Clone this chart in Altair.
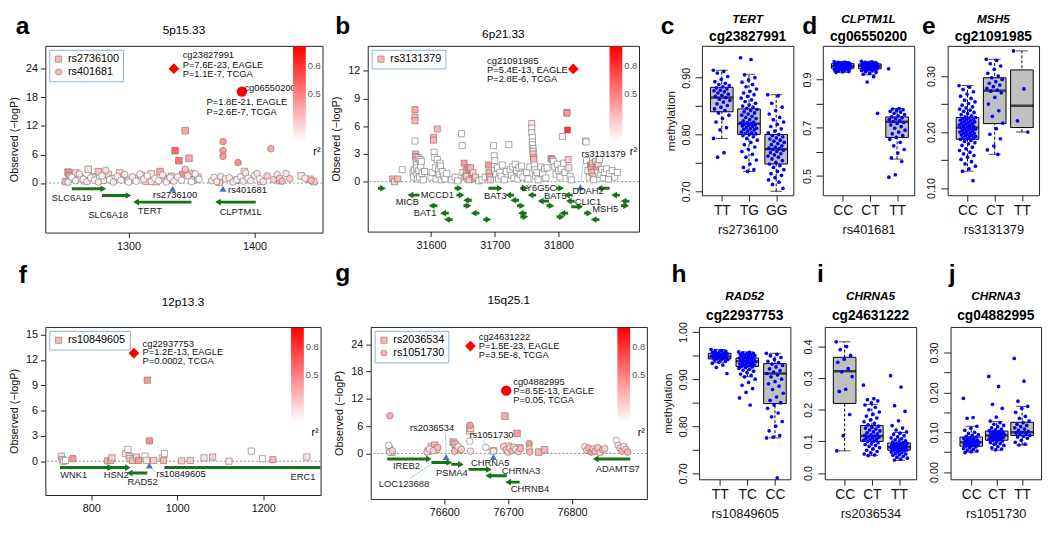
import altair as alt
import pandas as pd

FONT = "Liberation Sans"
GREEN = "#167318"
TRI_BLUE = "#4a74b4"
LEADER = "#a6c8e8"
PT_BLUE = "#0000ff"
BOX_GREY = "#c0c0c0"

# ---------------- panel a : 5p15.33 ----------------
A_SQ = [(1250,0.3,0.3),(1252,2.3,0.45),(1253,1.5,0.4),(1256,0.8,0.2),(1258,2.1,0.2),(1262,1.0,0.1),
        (1265,0.5,0.1),(1268,2.9,0.15),(1272,1.3,0.2),(1276,2.4,0.25),(1280,0.6,0.1),(1284,1.8,0.2),
        (1288,0.9,0.1),(1293,2.1,0.2),(1296,1.2,0.3),(1300,0.5,0.1),(1305,1.0,0.2),(1310,1.6,0.1),
        (1314,0.4,0.2),(1318,1.9,0.1),(1322,0.3,0.2),(1325,2.4,0.35),(1328,1.0,0.3),(1331,0.6,0.2),
        (1334,1.4,0.2),(1337,6.8,0.6),(1340,4.7,0.55),(1343,1.8,0.45),(1345,11.0,0.35),(1348,5.2,0.35),
        (1350,2.0,0.3),(1352,0.7,0.2),(1355,1.2,0.2),(1372,0.2,0.2),(1385,0.6,0.1),(1392,2.4,0.1),
        (1405,0.4,0.2),(1420,0.5,0.3),(1437,1.5,0.1),(1444,0.8,0.2),(1447,0.3,0.2)]
A_CI = [(1252,0.2,0.1),(1255,1.2,0.0),(1258,0.5,0.05),(1261,1.9,0.1),(1264,0.8,0.0),(1267,0.3,0.1),
        (1270,1.1,0.05),(1273,0.6,0.0),(1276,0.2,0.1),(1279,1.5,0.05),(1282,2.7,0.15),(1285,0.7,0.0),
        (1288,0.2,0.1),(1291,1.4,0.05),(1294,0.6,0.0),(1297,1.8,0.1),(1300,0.2,0.0),(1303,1.3,0.1),
        (1306,0.4,0.0),(1309,1.9,0.05),(1312,0.8,0.1),(1315,1.5,0.0),(1318,0.3,0.1),(1321,1.0,0.05),
        (1324,0.5,0.0),(1327,1.7,0.1),(1330,0.2,0.05),(1333,1.1,0.0),(1336,0.4,0.1),(1339,1.3,0.05),
        (1342,0.6,0.0),(1345,2.9,0.25),(1347,1.5,0.1),(1350,0.3,0.0),(1353,1.9,0.05),(1356,0.8,0.0),
        (1366,0.5,0.1),(1368,1.2,0.05),(1370,0.3,0.1),(1373,1.4,0.1),(1375,8.7,0.4),(1375,6.8,0.4),
        (1375,5.6,0.4),(1377,0.9,0.1),(1380,1.1,0.05),(1383,0.2,0.1),(1386,0.7,0.0),(1387,4.3,0.45),
        (1389,1.3,0.05),(1391,0.4,0.1),(1393,2.1,0.1),(1395,1.0,0.0),(1397,0.5,0.05),(1400,1.6,0.05),
        (1402,2.0,0.1),(1404,0.9,0.0),(1407,0.3,0.1),(1410,1.5,0.2),(1413,7.2,0.35),(1415,0.7,0.2),
        (1418,1.8,0.1),(1420,1.0,0.2),(1422,0.4,0.3),(1425,2.0,0.1),(1428,0.9,0.2),(1440,1.0,0.1),
        (1445,0.5,0.3)]
A_HITS = [(1336,24.0,"diamond"),(1390,19.2,"circle")]
A_NOTES = [(1343,26.8,"cg23827991"),(1343,24.8,"P=7.6E-23, EAGLE"),(1343,22.8,"P=1.1E-7, TCGA"),
           (1392,20.0,"cg06550200"),(1362,16.9,"P=1.8E-21, EAGLE"),(1362,14.9,"P=2.6E-7, TCGA")]
A_TRIS = [(1335,-1.2),(1375,-1.2)]
A_TLAB = [(1337,-2.6,"rs2736100","center"),(1379,-1.4,"rs401681","left")]
A_GENES = [(1255,1280,-1.2),(1279,1300,-2.6),(1350,1306,-4.0),(1401,1371,-4.0)]
A_GLAB = [(1255,-3.2,"SLC6A19","center"),(1284,-6.8,"SLC6A18","center"),(1317,-5.8,"TERT","center"),
          (1389,-6.0,"CLPTM1L","center")]

# ---------------- panel b : 6p21.33 ----------------
B_SQ = [(31540,0.3,0.3),(31543,0.0,0.2),(31548,0.3,0.3),(31555,1.3,0.0),
        (31572,1.0,0),(31573,0.5,0),(31574,1.3,0),(31575,7.8,0.35),(31575,7.0,0.3),(31575,6.6,0.3),
        (31575,4.4,0),(31576,3.0,0.3),(31576,2.7,0.3),(31577,2.3,0.2),(31577,1.8,0),(31578,1.5,0),
        (31578,0.8,0),(31579,0.3,0),(31580,2.6,0.2),(31581,1.2,0),(31582,0.5,0),(31583,2.4,0),
        (31584,1.7,0),(31585,2.2,0),(31586,0.9,0),(31588,0.2,0),(31590,1.1,0),
        (31600,0.5,0),(31602,1.0,0),(31604,4.8,0.3),(31604,4.5,0.3),(31605,3.2,0),(31606,2.6,0),
        (31607,1.5,0),(31608,0.3,0),(31610,5.7,0.3),(31610,2.4,0),(31612,1.3,0),(31613,0.8,0),
        (31614,2.0,0),(31615,1.7,0),(31616,0.2,0),(31618,1.1,0),(31620,0.6,0),(31622,0.3,0),
        (31625,0.9,0),(31632,0.2,0),(31638,0.5,0),(31642,0.1,0),
        (31648,5.2,0),(31649,3.9,0),(31650,1.0,0),(31652,2.0,0.4),(31653,0.5,0.3),(31655,1.2,0.3),
        (31656,0.6,0.2),(31658,1.5,0.4),(31660,1.3,0.4),(31660,0.2,0.2),(31662,1.5,0.3),(31664,0.8,0.4),
        (31666,1.0,0.2),(31668,0.3,0.3),(31670,0.5,0.2),(31675,0.1,0),(31680,0.2,0),(31685,0.5,0),
        (31690,1.8,0.4),(31691,1.0,0.35),(31692,0.5,0.3),(31693,0.2,0.2),(31698,3.9,0),(31699,2.8,0),
        (31700,2.3,0),(31700,1.2,0),(31702,0.8,0),(31704,1.5,0),(31706,0.3,0),(31708,1.0,0),
        (31710,0.6,0),(31712,1.8,0),(31715,0.2,0),(31718,1.1,0),(31722,4.0,0),(31724,1.3,0),
        (31726,0.7,0),(31728,1.6,0),(31730,0.4,0),(31732,1.9,0),(31734,1.2,0),(31736,0.3,0),
        (31738,1.5,0),(31740,0.8,0),(31742,1.7,0),(31744,0.5,0),
        (31750,1.0,0),(31752,0.3,0),(31755,1.6,0),(31758,6.3,0.1),(31758,5.8,0.05),(31758,5.3,0.05),
        (31759,4.8,0),(31759,4.3,0),(31759,4.0,0),(31760,3.6,0.1),(31760,3.3,0.1),(31760,3.0,0.2),
        (31761,2.6,0.3),(31761,2.4,0.3),(31762,1.8,0),(31763,1.3,0),(31764,0.6,0),(31766,1.0,0),
        (31768,0.2,0),(31772,1.6,0),(31775,0.9,0),(31778,1.4,0),(31780,0.4,0),(31782,1.5,0),
        (31788,2.5,0.4),(31790,2.4,0.3),(31792,2.2,0),(31794,1.6,0),(31796,0.8,0),(31798,1.9,0),
        (31800,1.2,0),(31802,0.5,0),(31804,1.4,0),(31806,4.9,0),(31808,2.0,0),(31810,1.0,0),
        (31813,7.5,0.4),(31813,7.4,0.4),(31814,5.6,0.8),(31815,2.4,0.2),(31816,1.5,0.1),(31818,0.6,0),
        (31820,0.2,0),
        (31842,4.4,0),(31843,4.3,0),(31844,2.3,0),(31846,1.2,0),(31848,0.5,0),(31850,1.8,0.4),
        (31851,1.5,0.4),(31852,1.0,0.3),(31853,2.0,0.3),(31854,0.6,0.3),(31855,0.2,0),(31858,2.2,0.2),
        (31860,1.6,0.4),(31862,1.9,0.2),(31864,2.4,0),(31866,0.8,0),(31868,1.3,0),(31870,0.4,0),
        (31872,1.0,0),(31875,1.4,0),(31878,0.3,0),(31880,0.9,0),(31884,1.2,0),(31888,0.5,0),
        (31892,1.0,0)]
B_HITS = [(31823,12.2,"diamond")]
B_NOTES = [(31688,13.1,"cg21091985"),(31688,12.1,"P=5.4E-13, EAGLE"),(31688,11.1,"P=2.8E-6, TCGA")]
B_TRIS = [(31834,-0.6)]
B_TLAB = [(31836,3.0,"rs3131379","left")]
B_LEAD = [(31835,0.0,31839,2.4)]
B_GENES = [(31517,31525,-0.7),(31582,31568,-1.45),(31610,31601,-2.6),(31628,31619,-3.4),
           (31634,31625,-4.1),(31637,31645,-0.7),(31640,31648,-1.45),(31664,31655,-2.0),
           (31651,31659,-2.6),(31676,31667,-3.4),(31682,31690,-4.1),(31690,31708,-0.7),
           (31730,31721,-1.45),(31738,31729,-2.0),(31735,31743,-2.6),(31750,31741,-3.4),
           (31740,31748,-3.8),(31740,31748,-0.7),(31765,31756,-1.45),(31785,31772,-2.1),
           (31781,31789,-2.6),(31796,31804,-0.7),(31822,31813,-1.45),(31815,31806,-3.4),
           (31797,31805,-3.8),(31825,31816,-2.1),(31820,31834,-2.7),(31840,31848,-3.4),
           (31864,31855,-4.1),(31880,31864,-0.7),(31896,31887,-1.45),(31911,31902,-2.1),
           (31898,31906,-2.6)]
B_GLAB = [(31563,-2.2,"MICB","center"),(31610,-1.4,"MCCD1","center"),(31591,-3.4,"BAT1","center"),
          (31701,-1.6,"BAT3","center"),(31769,-0.7,"LY6G5C","center"),(31795,-1.6,"BAT5","center"),
          (31846,-1.0,"DDAH2","center"),(31846,-2.2,"CLIC1","center"),(31873,-3.0,"MSH5","center")]

# ---------------- panel f : 12p13.3 ----------------
F_SQ = [(730,0.6,0.1),(732,0.2,0.2),(735,0.0,0.1),(740,0.1,0.0),(757,0.3,0.4),(838,0.05,0.3),
        (845,0.1,0.3),(848,0.4,0.2),(880,0.9,0.1),(885,1.4,0.0),(888,0.6,0.2),(890,0.3,0.1),
        (895,0.1,0.3),(905,0.5,0.2),(910,0.1,0.4),(925,0.6,0.0),(928,0.1,0.1),(930,9.6,0.4),
        (935,2.4,0.45),(945,0.1,0.2),(965,0.4,0.0),(968,0.1,0.3),(970,0.9,0.0),(1010,0.05,0.2),
        (1030,0.1,0.2),(1062,0.4,0.1),(1082,0.5,0.2),(1120,0.0,0.1),(1172,1.2,0.0),(1198,0.3,0.0),
        (1222,0.2,0.3),(1301,0.5,0.1)]
F_HITS = [(899,12.8,"diamond")]
F_NOTES = [(919,13.9,"cg22937753"),(919,12.9,"P=1.2E-13, EAGLE"),(919,11.9,"P=0.0002, TCGA")]
F_TRIS = [(935,-0.5)]
F_TLAB = [(951,-1.5,"rs10849605","left")]
F_LEAD = [(938,-0.7,949,-1.3)]
F_GENES = [(727,844,-0.75),(844,885,-0.75),(930,889,-1.4),(970,1345,-0.75)]
F_GLAB = [(759,-1.6,"WNK1","center"),(858,-1.6,"HSN2","center"),(919,-2.5,"RAD52","center"),
          (1292,-1.9,"ERC1","center")]

# ---------------- panel g : 15q25.1 ----------------
G_SQ = [(76514,1.0,0.1),(76518,0.3,0.2),(76575,0.5,0.1),(76580,1.5,0.2),(76585,1.8,0.3),
        (76588,0.9,0.1),(76614,2.5,0.35),(76617,2.0,0.3),(76620,1.3,0.2),(76624,0.8,0.3),
        (76640,5.0,0.1),(76641,5.5,0.2),(76677,0.6,0.1),(76695,8.2,0.35),(76700,1.6,0.2),
        (76714,4.4,0.4),(76718,1.2,0.2),(76748,0.3,0.3),(76757,0.8,0.3),(76880,1.2,0.1)]
G_CI = [(76515,8.3,0.35),(76513,1.8,0.0),(76515,0.3,0.1),(76519,0.6,0.2),(76573,0.3,0.2),
        (76577,1.0,0.1),(76583,0.6,0.2),(76590,1.3,0.3),(76616,0.5,0.3),(76622,1.5,0.1),
        (76627,0.9,0.2),(76640,6.2,0.4),(76640,2.7,0.0),(76641,0.5,0.1),(76665,1.3,0.0),
        (76677,0.5,0.1),(76693,1.5,0.2),(76697,0.8,0.25),(76700,0.3,0.2),(76703,1.2,0.1),
        (76706,0.6,0.3),(76709,1.4,0.2),(76712,0.9,0.1),(76716,0.4,0.2),(76719,1.1,0.3),
        (76733,2.2,0.4),(76733,1.0,0.2),(76734,0.3,0.3),(76820,1.5,0.1),(76823,0.7,0.2),
        (76826,1.2,0.3),(76830,0.3,0.4),(76833,1.0,0.2),(76836,0.5,0.3),(76840,1.3,0.25),
        (76844,0.2,0.2),(76848,0.8,0.3),(76851,1.1,0.2),(76869,2.9,0.0),(76872,1.8,0.1),
        (76875,1.2,0.2),(76878,0.5,0.3),(76881,1.5,0.1),(76884,0.9,0.2),(76887,0.3,0.3)]
G_HITS = [(76641,23.6,"diamond"),(76697,13.8,"circle")]
G_NOTES = [(76654,25.6,"cg24631222"),(76654,23.7,"P=1.5E-23, EAGLE"),(76654,21.7,"P=3.5E-8, TCGA"),
           (76708,15.8,"cg04882995"),(76708,13.8,"P=8.5E-13, EAGLE"),(76708,11.8,"P=0.05, TCGA")]
G_TRIS = [(76603,-0.8),(76677,-0.8)]
G_TLAB = [(76581,5.5,"rs2036534","center"),(76674,4.1,"rs1051730","center")]
G_LEAD = [(76602,4.3,76603,0.2),(76660,3.0,76675,0.0),(76545,-5.6,76586,-1.8)]
G_GENES = [(76511,76576,-1.2),(76580,76608,-2.0),(76611,76626,-2.4),(76638,76670,-3.5),
           (76698,76669,-4.9),(76718,76700,-6.3),(76891,76837,-1.2)]
G_GLAB = [(76541,-2.8,"IREB2","center"),(76537,-6.7,"LOC123688","center"),(76612,-4.3,"PSMA4","center"),
          (76672,-2.2,"CHRNA5","center"),(76720,-3.9,"CHRNA3","center"),(76734,-7.9,"CHRNB4","center"),
          (76837,-3.4,"ADAMTS7","left")]

# ---------------- box plots ----------------
C_CATS = ["TT", "TG", "GG"]
C_TT = [0.913,0.911,0.908,0.902,0.897,0.893,0.890,0.888,0.886,0.884,0.882,0.880,0.878,0.877,0.875,0.873,
        0.871,0.869,0.867,0.865,0.862,0.860,0.857,0.854,0.851,0.848,0.845,0.842,0.838,0.834,0.828,0.822,
        0.812,0.808,0.793,0.768,0.760]
C_TG = [0.935,0.932,0.905,0.900,0.896,0.892,0.888,0.884,0.880,0.876,0.873,0.870,0.867,0.864,0.861,0.858,
        0.855,0.852,0.850,0.848,0.846,0.844,0.842,0.840,0.838,0.836,0.834,0.832,0.830,0.828,0.826,0.824,
        0.822,0.821,0.820,0.819,0.818,0.817,0.816,0.815,0.814,0.812,0.811,0.810,0.809,0.808,0.806,0.804,
        0.803,0.802,0.801,0.800,0.798,0.796,0.793,0.790,0.786,0.782,0.778,0.774,0.770,0.765,0.760,0.755,
        0.748,0.742,0.738,0.735]
C_GG = [0.870,0.868,0.855,0.848,0.842,0.836,0.830,0.826,0.822,0.818,0.814,0.810,0.806,0.803,0.800,0.798,
        0.796,0.794,0.792,0.790,0.788,0.786,0.784,0.782,0.780,0.778,0.776,0.775,0.774,0.772,0.770,0.768,
        0.766,0.764,0.762,0.760,0.757,0.754,0.751,0.748,0.745,0.742,0.738,0.735,0.731,0.728,0.724,0.720,
        0.716,0.712,0.705]
C_STATS = {"q1": [0.840,0.800,0.748], "med": [0.865,0.819,0.774], "q3": [0.883,0.845,0.800],
           "lo": [0.793,0.735,0.700], "hi": [0.913,0.906,0.870]}

D_CATS = ["CC", "CT", "TT"]
D_CC = [0.975,0.973,0.972,0.970,0.969,0.968,0.967,0.966,0.965,0.964,0.963,0.962,0.961,0.960,0.959,0.958,
        0.957,0.956,0.955,0.955,0.954,0.953,0.952,0.951,0.950,0.949,0.948,0.947,0.946,0.945,0.944,0.943,
        0.942,0.941,0.940,0.938,0.936,0.934,0.932,0.930]
D_CT = [0.976,0.974,0.972,0.970,0.969,0.968,0.967,0.966,0.965,0.964,0.963,0.962,0.961,0.960,0.959,0.958,
        0.957,0.956,0.955,0.954,0.953,0.952,0.951,0.950,0.949,0.948,0.947,0.946,0.945,0.944,0.943,0.942,
        0.941,0.940,0.938,0.936,0.933,0.930,0.926,0.922,0.912,0.890,0.760]
D_TT = [0.945,0.780,0.778,0.775,0.772,0.768,0.765,0.760,0.755,0.750,0.745,0.742,0.738,0.734,0.730,0.726,
        0.722,0.718,0.712,0.705,0.698,0.690,0.682,0.675,0.668,0.660,0.652,0.640,0.625,0.610,0.595,0.575,
        0.560,0.505,0.495]
D_STATS = {"q1": [0.947,0.945,0.660], "med": [0.956,0.956,0.725], "q3": [0.966,0.965,0.745],
           "lo": [0.930,0.920,0.570], "hi": [0.975,0.976,0.780]}

E_CATS = ["CC", "CT", "TT"]
E_CC = [0.283,0.280,0.276,0.272,0.268,0.264,0.260,0.257,0.254,0.251,0.248,0.245,0.243,0.241,0.239,0.237,
        0.235,0.233,0.231,0.229,0.227,0.226,0.225,0.224,0.223,0.222,0.221,0.220,0.219,0.218,0.217,0.216,
        0.215,0.214,0.213,0.212,0.211,0.210,0.209,0.208,0.207,0.206,0.205,0.204,0.203,0.202,0.201,0.200,
        0.199,0.198,0.197,0.196,0.195,0.194,0.193,0.192,0.191,0.190,0.189,0.188,0.187,0.185,0.183,0.181,
        0.179,0.176,0.173,0.170,0.167,0.164,0.161,0.158,0.155,0.151,0.147,0.143,0.139,0.134,0.130,0.113]
E_CT = [0.330,0.328,0.322,0.318,0.312,0.305,0.300,0.297,0.294,0.290,0.287,0.284,0.281,0.278,0.275,0.273,
        0.270,0.262,0.250,0.238,0.228,0.216,0.206,0.196,0.188,0.175,0.168,0.160]
E_TT = [0.345,0.277,0.220,0.200]
E_STATS = {"q1": [0.187,0.215,0.208], "med": [0.208,0.274,0.247], "q3": [0.226,0.297,0.311],
           "lo": [0.130,0.160,0.200], "hi": [0.283,0.330,0.345]}

H_CATS = ["TT", "TC", "CC"]
H_TT = [0.963,0.961,0.960,0.959,0.958,0.957,0.956,0.955,0.954,0.953,0.952,0.951,0.950,0.949,0.948,0.948,
        0.947,0.946,0.945,0.944,0.943,0.942,0.941,0.940,0.938,0.936,0.934,0.930,0.925,0.912]
H_TC = [0.958,0.957,0.956,0.955,0.954,0.953,0.952,0.951,0.950,0.949,0.948,0.947,0.946,0.945,0.944,0.943,
        0.942,0.941,0.940,0.939,0.938,0.937,0.936,0.935,0.934,0.933,0.932,0.931,0.930,0.929,0.928,0.927,
        0.926,0.925,0.923,0.921,0.919,0.917,0.914,0.911,0.908,0.905,0.900,0.893,0.887,0.880,0.872,0.860,
        0.845]
H_CC = [0.955,0.953,0.950,0.946,0.942,0.938,0.935,0.932,0.929,0.926,0.922,0.918,0.915,0.912,0.909,0.905,
        0.900,0.895,0.890,0.885,0.878,0.870,0.862,0.855,0.850,0.845,0.838,0.828,0.820,0.810,0.800,0.790,
        0.780,0.777,0.775,0.690]
H_STATS = {"q1": [0.943,0.927,0.848], "med": [0.948,0.938,0.912], "q3": [0.955,0.945,0.933],
           "lo": [0.935,0.905,0.775], "hi": [0.963,0.958,0.955]}

I_CATS = ["CC", "CT", "TT"]
I_CC = [0.415,0.400,0.390,0.372,0.360,0.350,0.330,0.320,0.305,0.265,0.258,0.185,0.118,0.070]
I_CT = [0.278,0.235,0.232,0.228,0.222,0.215,0.208,0.200,0.193,0.186,0.180,0.174,0.168,0.162,0.157,0.152,
        0.148,0.145,0.142,0.139,0.136,0.133,0.130,0.127,0.124,0.121,0.119,0.117,0.115,0.113,0.111,0.109,
        0.107,0.105,0.103,0.101,0.099,0.096,0.093,0.090,0.087,0.084,0.080,0.076,0.072,0.068,0.064,0.060,
        0.057,0.055]
I_TT = [0.308,0.272,0.213,0.195,0.165,0.150,0.142,0.136,0.130,0.126,0.122,0.118,0.114,0.111,0.108,0.105,
        0.102,0.100,0.098,0.096,0.094,0.093,0.092,0.091,0.090,0.089,0.088,0.087,0.086,0.085,0.084,0.083,
        0.082,0.082,0.081,0.080,0.079,0.078,0.077,0.076,0.075,0.074,0.073,0.072,0.071,0.070,0.068,0.066,
        0.064,0.062,0.060,0.058,0.056,0.053,0.050,0.047,0.044,0.041]
I_STATS = {"q1": [0.220,0.100,0.072], "med": [0.322,0.117,0.082], "q3": [0.366,0.150,0.095],
           "lo": [0.070,0.055,0.040], "hi": [0.415,0.217,0.128]}

J_CATS = ["CC", "CT", "TT"]
J_CC = [0.185,0.137,0.135,0.115,0.110,0.105,0.100,0.097,0.094,0.092,0.090,0.088,0.086,0.084,0.083,0.082,
        0.080,0.079,0.078,0.077,0.076,0.075,0.074,0.073,0.072,0.071,0.070,0.069,0.068,0.067,0.066,0.065,
        0.063,0.061,0.059,0.057,0.055,0.053,0.051,0.049]
J_CT = [0.240,0.215,0.170,0.160,0.138,0.128,0.124,0.120,0.117,0.114,0.111,0.108,0.106,0.104,0.102,0.101,
        0.100,0.099,0.098,0.097,0.096,0.095,0.094,0.093,0.092,0.091,0.090,0.089,0.088,0.087,0.086,0.085,
        0.084,0.083,0.082,0.081,0.080,0.078,0.076,0.074,0.072,0.070,0.067,0.064,0.061,0.058,0.056]
J_TT = [0.285,0.228,0.178,0.165,0.160,0.150,0.140,0.135,0.128,0.124,0.120,0.117,0.114,0.111,0.108,0.105,
        0.102,0.100,0.098,0.096,0.094,0.092,0.090,0.088,0.085,0.080,0.075,0.070,0.068]
J_STATS = {"q1": [0.065,0.080,0.092], "med": [0.075,0.092,0.100], "q3": [0.088,0.103,0.125],
           "lo": [0.050,0.055,0.068], "hi": [0.115,0.127,0.165]}

R2_TICKS = [0.8, 0.5]
LAB2 = "abs(round(datum.value*100) % 10) < 0.5 ? format(datum.value, '.2f') : ''"
LAB1ODD = "round(datum.value*10) % 2 == 1 ? format(datum.value, '.1f') : ''"
LAB1 = "format(datum.value, '.1f')"
GRAD_LEN = 96


def px_text(text, dx, dy, size, weight="normal", style="normal", align="left", color="black"):
    return alt.Chart(pd.DataFrame({"t": [text]})).mark_text(
        align=align, baseline="alphabetic", fontSize=size, fontWeight=weight, fontStyle=style, color=color
    ).encode(x=alt.value(dx), y=alt.value(dy), text="t:N")


def text_layers(rows, X, Y, size, color="#111"):
    out = []
    df = pd.DataFrame(rows, columns=["x", "y", "t", "al"])
    for al in ["left", "center", "right"]:
        sub = df[df["al"] == al]
        if len(sub):
            out.append(alt.Chart(sub).mark_text(align=al, baseline="middle", fontSize=size, color=color)
                       .encode(x=X("x"), y=Y("y"), text="t:N"))
    return out


def locus(p):
    xs = alt.Scale(domain=p["xdom"], nice=False, zero=False)
    ys = alt.Scale(domain=p["ydom"], nice=False, zero=False)
    xax = alt.Axis(values=p["xticks"], format="d", title=None, labelFontSize=11, tickSize=5, labelPadding=3)
    yax = alt.Axis(values=p["yticks"], format="d", title="Observed (\u2212logP)", labelFontSize=11,
                   tickSize=5, labelPadding=3, titleFontSize=11, titleFontWeight="normal", titlePadding=6)

    def X(f):
        return alt.X(f, type="quantitative", scale=xs, axis=xax)

    def Y(f):
        return alt.Y(f, type="quantitative", scale=ys, axis=yax)

    rows = []
    for name, shp, pts in p["groups"]:
        for x, y, r in pts:
            rows.append({"x": x, "y": y, "r2": r, "snp": name})
    pts_df = pd.DataFrame(rows)
    names = [g[0] for g in p["groups"]]
    shapes = [g[1] for g in p["groups"]]

    layers = [alt.Chart(pd.DataFrame({"y": [0]})).mark_rule(color="#8a8a8a", strokeDash=[2, 2], strokeWidth=1)
              .encode(y=Y("y"))]
    if p["leaders"]:
        ld = pd.DataFrame(p["leaders"], columns=["x1", "y1", "x2", "y2"])
        layers.append(alt.Chart(ld).mark_rule(color=LEADER, strokeWidth=0.9)
                      .encode(x=X("x1"), y=Y("y1"), x2="x2", y2="y2"))
    layers.append(alt.Chart(pts_df).mark_point(filled=True, opacity=1, size=p["psize"], stroke="#707070",
                                               strokeWidth=0.6, clip=True).encode(
        x=X("x"), y=Y("y"),
        fill=alt.Fill("r2:Q", scale=alt.Scale(domain=[0, 1], range=["#ffffff", "#ff0000"], interpolate="rgb"),
                      legend=alt.Legend(orient="top-right", title="r\u00b2", titleOrient="bottom",
                                        titleFontSize=11, titleFontWeight="normal", titleAnchor="end",
                                        values=R2_TICKS, format=".1f", gradientLength=GRAD_LEN,
                                        gradientThickness=13, gradientStrokeWidth=0, labelOffset=2,
                                        labelFontSize=9.5, labelColor="#555",
                                        padding=0, offset=1, direction="vertical")),
        shape=alt.Shape("snp:N", scale=alt.Scale(domain=names, range=shapes),
                        legend=alt.Legend(orient="top-left", title=None, strokeColor="#8fb0d4",
                                          fillColor="white", padding=4, offset=4, labelFontSize=11,
                                          symbolSize=40, symbolFillColor="#f6b8b8",
                                          symbolStrokeColor="#c07070", symbolStrokeWidth=0.7,
                                          rowPadding=1, labelOffset=4)),
    ))
    hd = pd.DataFrame(p["hits"], columns=["x", "y", "s"])
    dia = hd[hd["s"] == "diamond"]
    cir = hd[hd["s"] == "circle"]
    if len(dia):
        layers.append(alt.Chart(dia).mark_point(shape="diamond", filled=True, color="#ff0000", size=120, opacity=1)
                      .encode(x=X("x"), y=Y("y")))
    if len(cir):
        layers.append(alt.Chart(cir).mark_circle(color="#ff0000", size=110, opacity=1)
                      .encode(x=X("x"), y=Y("y")))
    notes = [(x, y, t, "left") for x, y, t in p["notes"]]
    layers += text_layers(notes, X, Y, 9.5)
    td = pd.DataFrame(p["tris"], columns=["x", "y"])
    layers.append(alt.Chart(td).mark_point(shape="triangle-up", filled=True, color=TRI_BLUE, size=50, opacity=1)
                  .encode(x=X("x"), y=Y("y")))
    layers += text_layers(p["tlab"], X, Y, 9.5)
    gd = pd.DataFrame(p["genes"], columns=["x1", "x2", "y"])
    layers.append(alt.Chart(gd).mark_rule(color=GREEN, strokeWidth=3, clip=True)
                  .encode(x=X("x1"), x2="x2", y=Y("y")))
    right = gd[gd["x2"] > gd["x1"]]
    left = gd[gd["x2"] < gd["x1"]]
    if len(right):
        layers.append(alt.Chart(right).mark_point(shape="triangle-right", filled=True, color=GREEN, size=45,
                                                  opacity=1, clip=True).encode(x=X("x2"), y=Y("y")))
    if len(left):
        layers.append(alt.Chart(left).mark_point(shape="triangle-left", filled=True, color=GREEN, size=45,
                                                 opacity=1, clip=True).encode(x=X("x2"), y=Y("y")))
    layers += text_layers(p["glab"], X, Y, 9.5, "#222")
    layers.append(px_text(p["title"], p["w"] / 2, p["tdy"], 12, align="center"))
    layers.append(px_text(p["letter"], p["lpos"][0], p["lpos"][1], 25, weight="bold"))
    return alt.layer(*layers).properties(width=p["w"], height=p["h"])


def boxpanel(p):
    xs = alt.Scale(domain=p["xdom"], nice=False, zero=False)
    ys = alt.Scale(domain=p["ydom"], nice=False, zero=False)
    lab = "['', '%s', '%s', '%s'][datum.value]" % tuple(p["cats"])
    xax = alt.Axis(values=[1, 2, 3], labelExpr=lab, title=p["snp"], labelFontSize=14, titleFontSize=13,
                   titleFontWeight="normal", tickSize=6, labelPadding=3, titlePadding=6)
    ykw = dict(values=p["yticks"], labelExpr=p["lexpr"], labelAngle=270, labelAlign="center",
               labelBaseline="bottom", labelFontSize=11, tickSize=7, labelPadding=4)
    if p.get("ytitle"):
        ykw.update(title=p["ytitle"], titleFontSize=12, titleFontWeight="normal", titlePadding=3)
    else:
        ykw["title"] = None
    yax = alt.Axis(**ykw)

    def X(f):
        return alt.X(f, type="quantitative", scale=xs, axis=xax)

    def Y(f):
        return alt.Y(f, type="quantitative", scale=ys, axis=yax)

    st = pd.DataFrame(p["stats"])
    st["pos"] = [1, 2, 3]
    rows = []
    for k, vals in enumerate(p["pts"]):
        for i, v in enumerate(vals):
            rows.append({"jx": (k + 1) + (((i * 0.618034) % 1) - 0.5) * 0.62, "v": v})
    pdf = pd.DataFrame(rows)
    base = alt.Chart(st)
    layers = [
        base.mark_rule(color="black", strokeDash=[3, 2], strokeWidth=1).encode(x=X("pos"), y=Y("lo"), y2="hi"),
        base.mark_tick(orient="horizontal", size=12, thickness=1, color="black").encode(x=X("pos"), y=Y("lo")),
        base.mark_tick(orient="horizontal", size=12, thickness=1, color="black").encode(x=X("pos"), y=Y("hi")),
        base.mark_bar(size=23, fill=BOX_GREY, stroke="black", strokeWidth=1, orient="vertical")
            .encode(x=X("pos"), y=Y("q1"), y2="q3"),
        base.mark_tick(orient="horizontal", size=23, thickness=2.5, color="black").encode(x=X("pos"), y=Y("med")),
        alt.Chart(pdf).mark_circle(size=14, color=PT_BLUE, opacity=1).encode(x=X("jx"), y=Y("v")),
        px_text(p["gene"], p["w"] / 2, p["tdy"][0], 12, weight="bold", style="italic", align="center"),
        px_text(p["cg"], p["w"] / 2, p["tdy"][1], 14, weight="bold", align="center"),
        px_text(p["letter"], p["lpos"][0], p["lpos"][1], 25, weight="bold"),
    ]
    return alt.layer(*layers).properties(width=p["w"], height=p["h"])


PA = dict(letter="a", lpos=(-30, -12), tdy=-12, title="5p15.33", w=282, h=190, xdom=[1234, 1454],
          ydom=[-10.4, 28.8], xticks=[1300, 1400], yticks=[0, 6, 12, 18, 24], psize=45,
          groups=[("rs2736100", "square", A_SQ), ("rs401681", "circle", A_CI)],
          hits=A_HITS, notes=A_NOTES, tris=A_TRIS, tlab=A_TLAB, genes=A_GENES, glab=A_GLAB, leaders=[])
PB = dict(letter="b", lpos=(-33, -12), tdy=-8, title="6p21.33", w=276, h=189, xdom=[31501, 31926],
          ydom=[-5.4, 14.7], xticks=[31600, 31700, 31800], yticks=[0, 3, 6, 9, 12], psize=38,
          groups=[("rs3131379", "square", B_SQ)],
          hits=B_HITS, notes=B_NOTES, tris=B_TRIS, tlab=B_TLAB, genes=B_GENES, glab=B_GLAB, leaders=B_LEAD)
PF = dict(letter="f", lpos=(-27, -45), tdy=-21, title="12p13.3", w=280, h=171, xdom=[693, 1333],
          ydom=[-4.0, 15.9], xticks=[800, 1000, 1200], yticks=[0, 3, 6, 9, 12, 15], psize=40,
          groups=[("rs10849605", "square", F_SQ)],
          hits=F_HITS, notes=F_NOTES, tris=F_TRIS, tlab=F_TLAB, genes=F_GENES, glab=F_GLAB, leaders=F_LEAD)
PG = dict(letter="g", lpos=(-36, -47), tdy=-23, title="15q25.1", w=281, h=175, xdom=[76485, 76917],
          ydom=[-10, 27.8], xticks=[76600, 76700, 76800], yticks=[0, 6, 12, 18, 24], psize=45,
          groups=[("rs2036534", "square", G_SQ), ("rs1051730", "circle", G_CI)],
          hits=G_HITS, notes=G_NOTES, tris=G_TRIS, tlab=G_TLAB, genes=G_GENES, glab=G_GLAB, leaders=G_LEAD)

PC = dict(letter="c", lpos=(-42, -12), tdy=(-23, -5), gene="TERT", cg="cg23827991", snp="rs2736100",
          cats=C_CATS, w=93, h=152, xdom=[0.45, 3.45], ydom=[0.693, 0.956],
          yticks=[0.70, 0.75, 0.80, 0.85, 0.90], lexpr=LAB2, ytitle="methylation",
          stats=C_STATS, pts=[C_TT, C_TG, C_GG])
PD = dict(letter="d", lpos=(-21, -12), tdy=(-23, -5), gene="CLPTM1L", cg="cg06550200", snp="rs401681",
          cats=D_CATS, w=93, h=152, xdom=[0.45, 3.45], ydom=[0.42, 1.04], yticks=[0.5, 0.6, 0.7, 0.8, 0.9],
          lexpr=LAB1ODD, stats=D_STATS, pts=[D_CC, D_CT, D_TT])
PE = dict(letter="e", lpos=(-26, -12), tdy=(-23, -5), gene="MSH5", cg="cg21091985", snp="rs3131379",
          cats=E_CATS, w=93, h=152, xdom=[0.45, 3.45], ydom=[0.087, 0.354],
          yticks=[0.10, 0.15, 0.20, 0.25, 0.30], lexpr=LAB2, stats=E_STATS, pts=[E_CC, E_CT, E_TT])
PH = dict(letter="h", lpos=(-28, -46), tdy=(-27, -7), gene="RAD52", cg="cg22937753", snp="rs10849605",
          cats=H_CATS, w=93, h=155, xdom=[0.43, 3.38], ydom=[0.687, 1.011],
          yticks=[0.70, 0.75, 0.80, 0.85, 0.90, 0.95, 1.00], lexpr=LAB2, ytitle="methylation",
          stats=H_STATS, pts=[H_TT, H_TC, H_CC])
PI = dict(letter="i", lpos=(-8, -46), tdy=(-27, -7), gene="CHRNA5", cg="cg24631222", snp="rs2036534",
          cats=I_CATS, w=93, h=155, xdom=[0.45, 3.45], ydom=[-0.02, 0.462], yticks=[0.0, 0.1, 0.2, 0.3, 0.4],
          lexpr=LAB1, stats=I_STATS, pts=[I_CC, I_CT, I_TT])
PJ = dict(letter="j", lpos=(-2, -46), tdy=(-27, -7), gene="CHRNA3", cg="cg04882995", snp="rs1051730",
          cats=J_CATS, w=92, h=155, xdom=[0.38, 3.55], ydom=[-0.018, 0.364],
          yticks=[0.0, 0.05, 0.10, 0.15, 0.20, 0.25, 0.30], lexpr=LAB2,
          stats=J_STATS, pts=[J_CC, J_CT, J_TT])


def indep(c):
    return c.resolve_scale(fill="independent", shape="independent").resolve_legend(
        fill="independent", shape="independent")


row1 = indep(alt.hconcat(indep(alt.hconcat(locus(PA), locus(PB), spacing=7)),
                         indep(alt.hconcat(boxpanel(PC), boxpanel(PD), boxpanel(PE), spacing=6)),
                         spacing=20))
row2 = indep(alt.hconcat(indep(alt.hconcat(locus(PF), locus(PG), spacing=12)),
                         indep(alt.hconcat(boxpanel(PH), boxpanel(PI), boxpanel(PJ), spacing=11)),
                         spacing=13))

chart = indep(alt.vconcat(row1, row2, spacing=8)).properties(
    padding=0, background="white"
).configure_view(stroke="#222", strokeWidth=1).configure_axis(
    domain=False, grid=False, labelFont=FONT, titleFont=FONT, labelColor="#111", titleColor="#111",
    tickColor="#222"
).configure_legend(labelFont=FONT, titleFont=FONT).configure_text(font=FONT)

chart.save("out.html", embed_options={"renderer": "svg", "actions": False})
